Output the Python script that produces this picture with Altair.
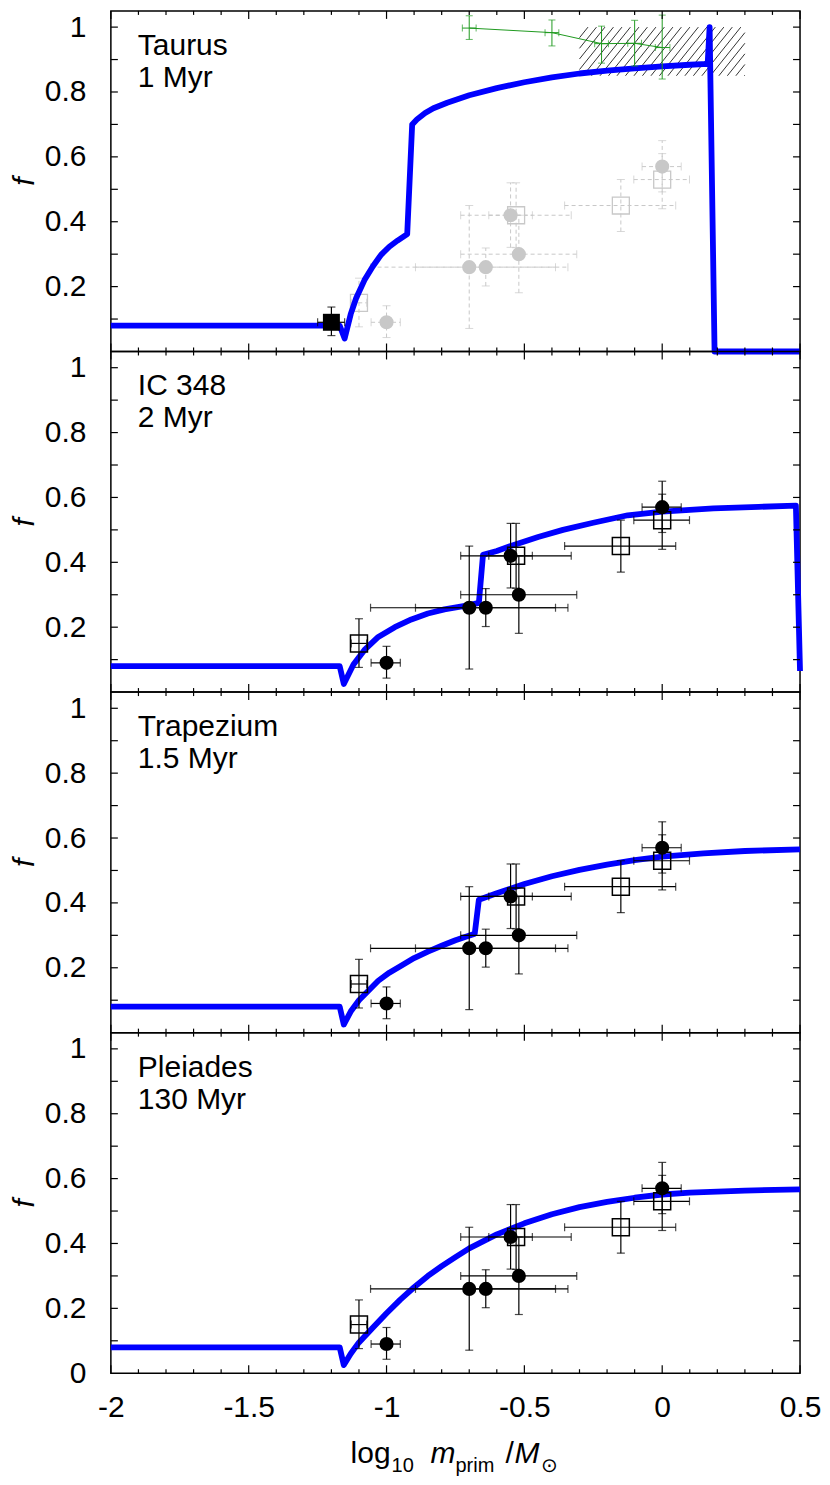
import altair as alt
import numpy as np
import pandas as pd

FONT = "Liberation Sans, Arial, Helvetica, sans-serif"
W, H = 690, 341

# ---------------- axes / ticks ----------------
x_domain = [-2.0, 0.5]
y_domain = [0.0, 1.05]
x_major = [-2.0, -1.5, -1.0, -0.5, 0.0, 0.5]
x_minor = [-1.9, -1.8, -1.7, -1.6, -1.4, -1.3, -1.2, -1.1, -0.9, -0.8, -0.7, -0.6,
           -0.4, -0.3, -0.2, -0.1, 0.1, 0.2, 0.3, 0.4]
y_ticks = [0.1, 0.2, 0.3, 0.4, 0.5, 0.6, 0.7, 0.8, 0.9, 1.0]
y_labels_upper = [0.2, 0.4, 0.6, 0.8, 1.0]
y_labels_bottom = [0.0, 0.2, 0.4, 0.6, 0.8, 1.0]

# ---------------- observations ----------------
circ_x = [-1.00, -0.70, -0.64, -0.55, -0.52, 0.00]
circ_y = [0.09, 0.26, 0.26, 0.42, 0.30, 0.57]
circ_xlo = [-1.056, -1.058, -0.895, -0.629, -0.731, -0.073]
circ_xhi = [-0.950, -0.387, -0.342, -0.471, -0.310, 0.069]
circ_ylo = [0.043, 0.071, 0.202, 0.321, 0.181, 0.492]
circ_yhi = [0.141, 0.450, 0.319, 0.520, 0.420, 0.650]

sq_x = [-1.10, -0.53, -0.15, 0.00]
sq_y = [0.15, 0.42, 0.45, 0.53]
sq_xlo = [-1.128, -0.731, -0.354, -0.103]
sq_xhi = [-1.072, -0.330, 0.049, 0.099]
sq_ylo = [0.076, 0.320, 0.370, 0.440]
sq_yhi = [0.226, 0.520, 0.530, 0.610]

# Taurus extra data
tau_x = [-1.20]
tau_y = [0.09]
tau_xlo = [-1.25]
tau_xhi = [-1.152]
tau_ylo = [0.049]
tau_yhi = [0.137]

green_x = [-0.70, -0.40, -0.22, -0.10, 0.00]
green_y = [0.997, 0.983, 0.949, 0.950, 0.937]
green_xlo = [-0.725, -0.425, -0.245, -0.125, -0.025]
green_xhi = [-0.675, -0.375, -0.195, -0.075, 0.028]
green_ylo = [0.962, 0.942, 0.889, 0.880, 0.840]
green_yhi = [1.035, 1.022, 1.003, 1.021, 1.037]

hatch_x = [-0.30, 0.30]
hatch_y = [0.85, 1.00]

# ---------------- model curves ----------------
tau_cx = [-2.0, -1.17, -1.152, -1.13, -1.11, -1.08, -1.05, -1.02, -0.99, -0.96, -0.925,
          -0.907, -0.89, -0.86, -0.83, -0.78, -0.70, -0.60, -0.50, -0.40, -0.30, -0.20,
          -0.10, 0.0, 0.10, 0.165, 0.172, 0.19, 0.5]
tau_cy = [0.08, 0.08, 0.04, 0.115, 0.165, 0.22, 0.262, 0.298, 0.323, 0.342, 0.362,
          0.70, 0.715, 0.735, 0.75, 0.767, 0.79, 0.812, 0.83, 0.845, 0.857, 0.866,
          0.873, 0.879, 0.884, 0.887, 1.0, 0.0, 0.0]

ic_cx = [-2.0, -1.17, -1.155, -1.12, -1.08, -1.03, -0.97, -0.91, -0.85, -0.79, -0.70,
         -0.665, -0.65, -0.60, -0.555, -0.45, -0.36, -0.25, -0.125, 0.0, 0.186, 0.35,
         0.485, 0.50]
ic_cy = [0.08, 0.08, 0.025, 0.085, 0.13, 0.17, 0.2, 0.224, 0.242, 0.255, 0.268,
         0.275, 0.423, 0.435, 0.449, 0.478, 0.50, 0.522, 0.545, 0.556, 0.566, 0.571,
         0.575, 0.065]

tr_cx = [-2.0, -1.17, -1.155, -1.13, -1.10, -1.065, -1.03, -0.99, -0.95, -0.90, -0.85,
         -0.80, -0.75, -0.68, -0.665, -0.60, -0.50, -0.40, -0.30, -0.20, -0.10, 0.0,
         0.15, 0.30, 0.50]
tr_cy = [0.08, 0.08, 0.025, 0.065, 0.10, 0.13, 0.16, 0.185, 0.205, 0.23, 0.25,
         0.268, 0.285, 0.305, 0.41, 0.43, 0.458, 0.482, 0.502, 0.518, 0.532, 0.543,
         0.553, 0.56, 0.565]

pl_cx = [-2.0, -1.17, -1.155, -1.13, -1.10, -1.05, -1.0, -0.95, -0.9, -0.85, -0.8,
         -0.75, -0.7, -0.6, -0.5, -0.4, -0.3, -0.2, -0.1, 0.0, 0.1, 0.3, 0.5]
pl_cy = [0.08, 0.08, 0.025, 0.06, 0.095, 0.14, 0.185, 0.227, 0.265, 0.3, 0.33,
         0.358, 0.385, 0.428, 0.462, 0.49, 0.512, 0.528, 0.541, 0.551, 0.557, 0.563,
         0.567]

panels_info = [
    ("Taurus", "1 Myr", tau_cx, tau_cy),
    ("IC 348", "2 Myr", ic_cx, ic_cy),
    ("Trapezium", "1.5 Myr", tr_cx, tr_cy),
    ("Pleiades", "130 Myr", pl_cx, pl_cy),
]

XS = alt.Scale(domain=x_domain, nice=False, zero=False)
YS = alt.Scale(domain=y_domain, nice=False, zero=False)


def obs_df(x, y, xlo, xhi, ylo, yhi):
    return pd.DataFrame({"x": x, "y": y, "xlo": xlo, "xhi": xhi, "ylo": ylo, "yhi": yhi})


def errbar_layers(df, X, Y, color, dash=None, sw=1.2, cap=8):
    kw = dict(color=color, strokeWidth=sw)
    if dash:
        kw["strokeDash"] = dash
    hb = alt.Chart(df).mark_rule(**kw).encode(x=X("xlo"), x2="xhi", y=Y("y"))
    vb = alt.Chart(df).mark_rule(**kw).encode(x=X("x"), y=Y("ylo"), y2="yhi")
    vcap = pd.DataFrame({"x": list(df.x) * 2, "y": list(df.ylo) + list(df.yhi)})
    hcap = pd.DataFrame({"x": list(df.xlo) + list(df.xhi), "y": list(df.y) * 2})
    c1 = alt.Chart(vcap).mark_tick(orient="horizontal", size=cap, thickness=sw,
                                   color=color).encode(x=X("x"), y=Y("y"))
    c2 = alt.Chart(hcap).mark_tick(orient="vertical", size=cap, thickness=sw,
                                   color=color).encode(x=X("x"), y=Y("y"))
    return [hb, vb, c1, c2]


def hatch_df():
    px_x = W / (x_domain[1] - x_domain[0])
    px_y = H / (y_domain[1] - y_domain[0])
    dy_px = (hatch_y[1] - hatch_y[0]) * px_y
    dx = dy_px * 0.8 / px_x
    step = 8.5 / px_x
    rows = []
    for x0 in np.arange(hatch_x[0] - dx, hatch_x[1], step):
        xa, ya = x0, hatch_y[0]
        xb, yb = x0 + dx, hatch_y[1]
        if xa < hatch_x[0]:
            t = (hatch_x[0] - x0) / dx
            xa, ya = hatch_x[0], hatch_y[0] + t * (hatch_y[1] - hatch_y[0])
        if xb > hatch_x[1]:
            t = (hatch_x[1] - x0) / dx
            xb, yb = hatch_x[1], hatch_y[0] + t * (hatch_y[1] - hatch_y[0])
        if xb > xa:
            rows.append({"xa": xa, "ya": ya, "xb": xb, "yb": yb})
    return pd.DataFrame(rows)


one = pd.DataFrame({"a": [0]})

circ = obs_df(circ_x, circ_y, circ_xlo, circ_xhi, circ_ylo, circ_yhi)
sq = obs_df(sq_x, sq_y, sq_xlo, sq_xhi, sq_ylo, sq_yhi)
tau = obs_df(tau_x, tau_y, tau_xlo, tau_xhi, tau_ylo, tau_yhi)
green = obs_df(green_x, green_y, green_xlo, green_xhi, green_ylo, green_yhi)

charts = []
for k, (name, age, cx, cy) in enumerate(panels_info):
    bottom = k == 3
    if bottom:
        xaxis = alt.Axis(title=None, values=x_major, labelExpr="'' + datum.value",
                         labelFontSize=30, labelFont=FONT, labelPadding=19,
                         labelColor="black", labelFlush=False, ticks=False,
                         domain=False, grid=False)
    else:
        xaxis = alt.Axis(title=None, labels=False, ticks=False, domain=False, grid=False)
    yaxis = alt.Axis(title="f", values=(y_labels_bottom if bottom else y_labels_upper),
                     labelExpr="'' + datum.value", labelFontSize=30, labelFont=FONT,
                     labelPadding=25, labelColor="black", labelFlush=False,
                     ticks=False, domain=False, grid=False,
                     titleFont=FONT, titleFontSize=30, titleFontStyle="italic",
                     titleFontWeight="normal", titleColor="black", titlePadding=5)

    def X(f, xaxis=xaxis):
        return alt.X(f"{f}:Q", scale=XS, axis=xaxis)

    def Y(f, yaxis=yaxis):
        return alt.Y(f"{f}:Q", scale=YS, axis=yaxis)

    layers = []
    curve = pd.DataFrame({"x": cx, "y": cy, "i": list(range(len(cx)))})
    blue = alt.Chart(curve).mark_line(color="#0000ff", strokeWidth=5.8,
                                      strokeJoin="round").encode(
        x=X("x"), y=Y("y"), order="i:Q")

    if k == 0:
        gcol = "#c8c8c8"
        layers += errbar_layers(circ, X, Y, gcol, dash=[4, 3], sw=1.0)
        layers += errbar_layers(sq, X, Y, gcol, dash=[4, 3], sw=1.0)
        layers.append(alt.Chart(circ).mark_point(shape="circle", filled=True, size=200,
                                                 color=gcol, opacity=1).encode(x=X("x"), y=Y("y")))
        layers.append(alt.Chart(sq).mark_point(shape="square", filled=False, size=289,
                                               color=gcol, strokeWidth=1.3, opacity=1).encode(x=X("x"), y=Y("y")))
        layers.append(alt.Chart(hatch_df()).mark_rule(color="black", strokeWidth=0.8).encode(
            x=X("xa"), x2="xb", y=Y("ya"), y2="yb"))
        layers.append(blue)
        layers += errbar_layers(tau, X, Y, "black", sw=1.2, cap=8)
        layers.append(alt.Chart(tau).mark_point(shape="square", filled=True, size=289,
                                                color="black", opacity=1).encode(x=X("x"), y=Y("y")))
        gc = "#1f9a1f"
        layers.append(alt.Chart(green).mark_line(color=gc, strokeWidth=1.0).encode(x=X("x"), y=Y("y")))
        layers += errbar_layers(green, X, Y, gc, sw=1.0, cap=7)
    else:
        layers.append(blue)
        layers += errbar_layers(circ, X, Y, "black", sw=1.2)
        layers += errbar_layers(sq, X, Y, "black", sw=1.2)
        layers.append(alt.Chart(sq).mark_point(shape="square", filled=False, size=289,
                                               color="black", strokeWidth=1.5, opacity=1).encode(x=X("x"), y=Y("y")))
        layers.append(alt.Chart(circ).mark_point(shape="circle", filled=True, size=200,
                                                 color="black", opacity=1).encode(x=X("x"), y=Y("y")))

    # inward ticks on all four sides
    xmaj = pd.DataFrame({"x": x_major})
    xmin = pd.DataFrame({"x": x_minor})
    yt = pd.DataFrame({"y": y_ticks})
    tk = dict(color="black", strokeWidth=1.2)
    layers.append(alt.Chart(xmaj).mark_rule(**tk).encode(x=X("x"), y=alt.value(0), y2=alt.value(8)))
    layers.append(alt.Chart(xmaj).mark_rule(**tk).encode(x=X("x"), y=alt.value(H), y2=alt.value(H - 8)))
    layers.append(alt.Chart(xmin).mark_rule(**tk).encode(x=X("x"), y=alt.value(0), y2=alt.value(4)))
    layers.append(alt.Chart(xmin).mark_rule(**tk).encode(x=X("x"), y=alt.value(H), y2=alt.value(H - 4)))
    layers.append(alt.Chart(yt).mark_rule(**tk).encode(y=Y("y"), x=alt.value(0), x2=alt.value(7)))
    layers.append(alt.Chart(yt).mark_rule(**tk).encode(y=Y("y"), x=alt.value(W), x2=alt.value(W - 7)))

    # panel label
    for j, line in enumerate([name, age]):
        layers.append(alt.Chart(one).mark_text(text=line, align="left", baseline="alphabetic",
                                               font=FONT, fontSize=30, color="black").encode(
            x=alt.value(27), y=alt.value(44 + 32 * j)))

    if bottom:
        pieces = [
            ("log", 240, 0, 30, "normal"),
            ("10", 281, 9, 20, "normal"),
            ("m", 320, 0, 30, "italic"),
            ("prim", 345, 9, 20, "normal"),
            ("/", 395, 0, 30, "normal"),
            ("M", 404, 0, 30, "italic"),
            ("\u2299", 431, 9, 20, "normal"),
        ]
        for txt, px, dy, fs, st in pieces:
            layers.append(alt.Chart(one).mark_text(text=txt, align="left", baseline="alphabetic",
                                                   font=FONT, fontSize=fs, fontStyle=st,
                                                   color="black").encode(
                x=alt.value(px), y=alt.value(H + 90 + dy)))

    charts.append(alt.layer(*layers).properties(width=W, height=H))

chart = alt.vconcat(*charts, spacing=0, bounds="flush").properties(
    padding={"left": 0, "top": 0, "right": 0, "bottom": 0}
).configure_view(stroke="black", strokeWidth=1.5)

chart.save("out.html", embed_options={"renderer": "svg", "actions": False})
